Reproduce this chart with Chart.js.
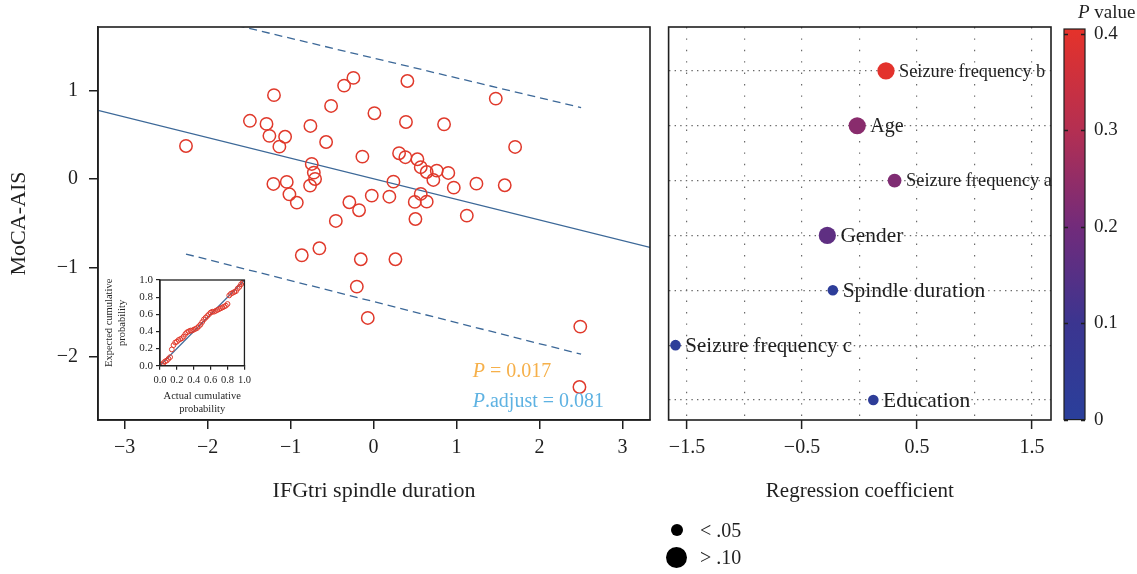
<!DOCTYPE html>
<html>
<head>
<meta charset="utf-8">
<title>MoCA-AIS and spindle duration</title>
<script src="https://cdn.jsdelivr.net/npm/chart.js@4.4.1/dist/chart.umd.min.js"></script>
<style>
  html, body { margin: 0; padding: 0; background: #fff; }
  #wrap { position: relative; width: 1137px; height: 574px; overflow: hidden; font-family: 'Liberation Serif', 'Times New Roman', serif; color: #1f1f1f; }
  canvas { position: absolute; }
  .dot { position: absolute; border-radius: 50%; background: #000; }
  .keytxt { position: absolute; font-size: 20px; line-height: 20px; white-space: nowrap; }
</style>
</head>
<body>
<div id="wrap">
  <canvas id="scatterChart" width="660" height="520" style="left:0;top:0"></canvas>
  <canvas id="ppChart" width="160" height="150" style="left:95px;top:270px"></canvas>
  <canvas id="coefChart" width="402" height="520" style="left:660px;top:0"></canvas>
  <canvas id="pBar" width="82" height="440" style="left:1055px;top:0"></canvas>

  <!-- marker size key -->
  <div class="dot" style="left:671px;top:524px;width:12px;height:12px"></div>
  <div class="dot" style="left:666px;top:547px;width:21px;height:21px"></div>
  <div class="keytxt" style="left:700px;top:520px">&lt; .05</div>
  <div class="keytxt" style="left:700px;top:547px">&gt; .10</div>
</div>

<script>
// ---- data ----

// left panel: z-scored IFGtri spindle duration vs MoCA-AIS
const spindleDuration = [-2.26, -1.49, -1.20, -1.29, -1.255, -1.066, -1.135, -0.761, -0.512, -0.572,
  -0.745, -0.72, -0.705, -0.765, -1.207, -1.046, -1.014, -0.925, -0.243, -0.355,
  0.407, 1.472, 0.01, 0.39, 0.849, 1.705, -0.135, 0.307, 0.383, 0.528,
  0.568, 0.64, 0.761, 0.90, 0.72, 0.239, 0.966, 1.239, 1.58, -0.022,
  0.19, 0.568, 0.496, 0.64, -0.292, -0.175, -0.455, 0.504, 1.123, -0.865,
  -0.653, -0.154, 0.263, -0.202, -0.07, 2.49, 2.48];
const mocaAis = [0.376, 0.66, 0.95, 0.625, 0.49, 0.48, 0.368, 0.602, 0.828, 0.421,
  0.173, 0.075, 0.003, -0.072, -0.053, -0.03, -0.17, -0.264, 1.145, 1.058,
  1.11, 0.911, 0.746, 0.647, 0.621, 0.365, 0.256, 0.294, 0.249, 0.226,
  0.136, 0.082, 0.097, 0.071, -0.008, -0.027, -0.095, -0.05, -0.068, -0.185,
  -0.197, -0.166, -0.256, -0.253, -0.26, -0.35, -0.471, -0.449, -0.411, -0.859,
  -0.78, -0.904, -0.904, -1.213, -1.567, -1.665, -2.347];

// fitted line and prediction band end points
const fitX = [-3.32, 3.33];
const fitY = [0.778, -0.771];
const bandX = [-2.26, 2.5];
const bandUpperY = [1.875, 0.809];
const bandLowerY = [-0.845, -1.977];

const xTicksMain = [-3, -2, -1, 0, 1, 2, 3];
const yTicksMain = [-2, -1, 0, 1];

// inset P-P plot
const ppActual = [0.02, 0.04, 0.06, 0.08, 0.10, 0.12, 0.14, 0.16, 0.18, 0.20,
  0.22, 0.24, 0.26, 0.28, 0.30, 0.32, 0.34, 0.36, 0.38, 0.40,
  0.42, 0.44, 0.46, 0.48, 0.50, 0.52, 0.54, 0.56, 0.58, 0.60,
  0.62, 0.64, 0.66, 0.68, 0.70, 0.72, 0.74, 0.76, 0.78, 0.80,
  0.82, 0.84, 0.86, 0.88, 0.90, 0.92, 0.94, 0.96, 0.98, 1.00];
const ppExpected = [0.01, 0.03, 0.05, 0.06, 0.08, 0.10, 0.19, 0.24, 0.27, 0.28,
  0.30, 0.31, 0.32, 0.34, 0.37, 0.39, 0.40, 0.41, 0.41, 0.42,
  0.43, 0.44, 0.46, 0.48, 0.51, 0.54, 0.56, 0.58, 0.60, 0.62,
  0.63, 0.63, 0.64, 0.65, 0.66, 0.67, 0.68, 0.69, 0.70, 0.72,
  0.82, 0.84, 0.85, 0.86, 0.87, 0.90, 0.92, 0.95, 0.97, 0.98];
const ppTicks = [0, 0.2, 0.4, 0.6, 0.8, 1];

// right panel: multivariable regression, top row first
const predictors = ['Seizure frequency b', 'Age', 'Seizure frequency a', 'Gender',
  'Spindle duration', 'Seizure frequency c', 'Education'];
const coefficients = [0.23, -0.02, 0.305, -0.28, -0.232, -1.60, 0.12];
const pValues = [0.40, 0.235, 0.22, 0.165, 0.02, 0.015, 0.025];
const coefGrid = [-1.5, -1, -0.5, 0, 0.5, 1, 1.5];
const coefLabelled = [-1.5, -0.5, 0.5, 1.5];
const pTicks = [0, 0.1, 0.2, 0.3, 0.4];

// ---- styles ----
const SERIF = "'Liberation Serif', 'Times New Roman', serif";
const INK = '#1f1f1f';
const RED = '#e0392b';
const STEEL = '#3c6898';
const markRadius = [8.6, 8.6, 6.9, 8.6, 5.3, 5.3, 5.3];
const labelSize = [18.3, 20, 18.4, 21.4, 21.5, 21, 21.5];
const rampStops = [[0, '#2a3f9b'], [0.1, '#3b3590'], [0.2, '#722b7b'], [0.3, '#b42f52'], [0.405, '#e5322a']];

const minus = v => String(v).replace('-', '\u2212');
const pairs = (xs, ys) => xs.map((x, i) => ({ x: x, y: ys[i] }));
const fixTicks = vals => s => { s.ticks = vals.map(v => ({ value: v })); };

function hexRgb(h) {
    return [1, 3, 5].map(i => parseInt(h.substr(i, 2), 16));
}

function pColor(p) {
    for (let i = 1; i < rampStops.length; i++) {
        const [v0, c0] = rampStops[i - 1];
        const [v1, c1] = rampStops[i];
        if (p <= v1 || i === rampStops.length - 1) {
            const t = Math.max(0, Math.min(1, (p - v0) / (v1 - v0)));
            const a = hexRgb(c0), b = hexRgb(c1);
            const m = a.map((c, k) => Math.round(c + (b[k] - c) * t));
            return 'rgb(' + m.join(',') + ')';
        }
    }
}

// box round the plot area
const frame = {
    id: 'frame',
    afterDraw(chart, args, opts) {
        const { ctx, chartArea: a } = chart;
        ctx.save();
        ctx.strokeStyle = INK;
        ctx.lineWidth = opts.width || 1.5;
        ctx.strokeRect(a.left, a.top, a.right - a.left, a.bottom - a.top);
        ctx.restore();
    }
};

// P and adjusted P in the corner of the scatter
const pNote = {
    id: 'pNote',
    afterDatasetsDraw(chart, args, opts) {
        const { ctx, scales: { x, y } } = chart;
        opts.lines.forEach(l => {
            let px = x.getPixelForValue(opts.x);
            const py = y.getPixelForValue(l.y);
            ctx.save();
            ctx.fillStyle = l.color;
            ctx.textBaseline = 'middle';
            ctx.font = 'italic 20px ' + SERIF;
            ctx.fillText('P', px, py);
            px += ctx.measureText('P').width;
            ctx.font = '20px ' + SERIF;
            ctx.fillText(l.text, px, py);
            ctx.restore();
        });
    }
};

// names next to each coefficient dot
const predictorLabels = {
    id: 'predictorLabels',
    afterDatasetsDraw(chart) {
        const { ctx } = chart;
        chart.getDatasetMeta(0).data.forEach((pt, i) => {
            ctx.save();
            ctx.font = labelSize[i] + 'px ' + SERIF;
            ctx.fillStyle = INK;
            ctx.textBaseline = 'middle';
            ctx.fillText(predictors[i], pt.x + markRadius[i] + 4.5, pt.y + 1);
            ctx.restore();
        });
    }
};

// colour bar for the P values
const colorRamp = {
    id: 'colorRamp',
    beforeDatasetsDraw(chart) {
        const { ctx, chartArea: a, scales: { y } } = chart;
        const g = ctx.createLinearGradient(0, y.getPixelForValue(y.min), 0, y.getPixelForValue(y.max));
        rampStops.forEach(([v, c]) => g.addColorStop(Math.min(1, (v - y.min) / (y.max - y.min)), c));
        ctx.save();
        ctx.fillStyle = g;
        ctx.fillRect(a.left, a.top, a.right - a.left, a.bottom - a.top);
        ctx.strokeStyle = INK;
        ctx.lineWidth = 1.3;
        y.ticks.forEach(t => {
            const py = Math.round(y.getPixelForValue(t.value)) + 0.5;
            ctx.beginPath();
            ctx.moveTo(a.left, py); ctx.lineTo(a.left + 4, py);
            ctx.moveTo(a.right - 4, py); ctx.lineTo(a.right, py);
            ctx.stroke();
        });
        ctx.lineWidth = 1.2;
        ctx.strokeRect(a.left, a.top, a.right - a.left, a.bottom - a.top);
        // title
        ctx.fillStyle = INK;
        ctx.textBaseline = 'middle';
        ctx.font = 'italic 19px ' + SERIF;
        ctx.fillText('P', 23, 13);
        const w = ctx.measureText('P').width;
        ctx.font = '19px ' + SERIF;
        ctx.fillText(' value', 23 + w, 13);
        ctx.restore();
    }
};

const quiet = { legend: { display: false }, tooltip: { enabled: false } };

// 1. Scatter with fitted line
new Chart(document.getElementById('scatterChart'), {
    type: 'scatter',
    data: {
        datasets: [
            {
                data: pairs(spindleDuration, mocaAis),
                pointRadius: 6.2,
                pointBorderWidth: 1.5,
                pointBorderColor: RED,
                pointBackgroundColor: 'rgba(0,0,0,0)'
            },
            { type: 'line', data: pairs(fitX, fitY), borderColor: STEEL, borderWidth: 1.3, pointRadius: 0, fill: false },
            { type: 'line', data: pairs(bandX, bandUpperY), borderColor: STEEL, borderWidth: 1.3, borderDash: [8, 5], pointRadius: 0, fill: false },
            { type: 'line', data: pairs(bandX, bandLowerY), borderColor: STEEL, borderWidth: 1.3, borderDash: [8, 5], pointRadius: 0, fill: false }
        ]
    },
    options: {
        responsive: false, animation: false,
        layout: { padding: { top: 27, right: 10 } },
        plugins: Object.assign({}, quiet, {
            frame: { width: 1.6 },
            pNote: {
                x: 1.195,
                lines: [
                    { y: -2.174, text: ' = 0.017', color: '#f6b04a' },
                    { y: -2.513, text: '.adjust = 0.081', color: '#5eb2e2' }
                ]
            }
        }),
        scales: {
            x: {
                type: 'linear', min: -3.32, max: 3.33,
                afterBuildTicks: fixTicks(xTicksMain),
                afterFit: s => { s.height = 100; },
                grid: { drawOnChartArea: false, tickLength: 9, color: INK, lineWidth: 1.5 },
                border: { color: INK, width: 1.5 },
                ticks: { font: { family: SERIF, size: 20 }, color: INK, padding: 7, autoSkip: false, maxRotation: 0, callback: v => minus(v) },
                title: { display: true, text: 'IFGtri spindle duration', font: { family: SERIF, size: 22 }, color: INK, padding: { bottom: 16 } }
            },
            y: {
                type: 'linear', min: -2.72, max: 1.72,
                afterBuildTicks: fixTicks(yTicksMain),
                afterFit: s => { s.width = 98; },
                grid: { drawOnChartArea: false, tickLength: 9, color: INK, lineWidth: 1.5 },
                border: { color: INK, width: 1.5 },
                ticks: { font: { family: SERIF, size: 20 }, color: INK, padding: 11, autoSkip: false, callback: v => minus(v) },
                title: { display: true, text: 'MoCA-AIS', font: { family: SERIF, size: 22 }, color: INK, padding: { top: 6 } }
            }
        }
    },
    plugins: [frame, pNote]
});

// 2. P-P inset
new Chart(document.getElementById('ppChart'), {
    type: 'scatter',
    data: {
        datasets: [
            {
                data: pairs(ppActual, ppExpected),
                pointRadius: 2.4,
                pointBorderWidth: 1,
                pointBorderColor: RED,
                pointBackgroundColor: 'rgba(0,0,0,0)'
            },
            { type: 'line', data: pairs([0, 1], [0, 1]), borderColor: STEEL, borderWidth: 1.2, pointRadius: 0, fill: false }
        ]
    },
    options: {
        responsive: false, animation: false,
        layout: { padding: { top: 10, right: 9.3 } },
        plugins: Object.assign({}, quiet, { frame: { width: 1.3 } }),
        scales: {
            x: {
                type: 'linear', min: 0, max: 1,
                afterBuildTicks: fixTicks(ppTicks),
                afterFit: s => { s.height = 54.3; },
                grid: { drawOnChartArea: false, tickLength: 4, color: INK, lineWidth: 1.2 },
                border: { color: INK, width: 1.3 },
                ticks: { font: { family: SERIF, size: 10.5 }, color: INK, padding: 4, autoSkip: false, maxRotation: 0, callback: v => v.toFixed(1) },
                title: { display: true, text: ['Actual cumulative', 'probability'], font: { family: SERIF, size: 10.5, lineHeight: 1.25 }, color: INK, padding: { bottom: 4 } }
            },
            y: {
                type: 'linear', min: 0, max: 1,
                afterBuildTicks: fixTicks(ppTicks),
                afterFit: s => { s.width = 65; },
                grid: { drawOnChartArea: false, tickLength: 4, color: INK, lineWidth: 1.2 },
                border: { color: INK, width: 1.3 },
                ticks: { font: { family: SERIF, size: 11 }, color: INK, padding: 3, autoSkip: false, callback: v => v.toFixed(1) },
                title: { display: true, text: ['Expected cumulative', 'probability'], font: { family: SERIF, size: 10.5, lineHeight: 1.25 }, color: INK, padding: { top: 8 } }
            }
        }
    },
    plugins: [frame]
});

// 3. Regression coefficients, coloured by P value
new Chart(document.getElementById('coefChart'), {
    type: 'scatter',
    data: {
        datasets: [{
            data: coefficients.map((c, i) => ({ x: c, y: predictors.length - i })),
            pointRadius: markRadius,
            pointBackgroundColor: pValues.map(pColor),
            pointBorderWidth: 0
        }]
    },
    options: {
        responsive: false, animation: false,
        layout: { padding: { left: 7, top: 27, right: 11 } },
        plugins: Object.assign({}, quiet, { frame: { width: 1.6 } }),
        scales: {
            x: {
                type: 'linear', min: -1.66, max: 1.665,
                afterBuildTicks: fixTicks(coefGrid),
                afterFit: s => { s.height = 100; },
                grid: {
                    color: '#6a6a6a', lineWidth: 1.2, tickLength: 9, tickWidth: 1.5, tickBorderDash: [],
                    tickColor: c => coefLabelled.includes(c.tick && c.tick.value) ? INK : 'rgba(0,0,0,0)'
                },
                border: { display: false, dash: [1.4, 10] },
                ticks: {
                    font: { family: SERIF, size: 20 }, color: INK, padding: 7, autoSkip: false, maxRotation: 0,
                    callback: v => coefLabelled.includes(v) ? minus(v) : ''
                },
                title: { display: true, text: 'Regression coefficient', font: { family: SERIF, size: 21 }, color: INK, padding: { bottom: 16 } }
            },
            y: {
                type: 'linear', min: 0.635, max: 7.8,
                afterBuildTicks: fixTicks([1, 2, 3, 4, 5, 6, 7]),
                afterFit: s => { s.width = 0; },
                grid: { color: '#6a6a6a', lineWidth: 1.2, drawTicks: false },
                border: { display: false, dash: [1.4, 4.2] },
                ticks: { display: false }
            }
        }
    },
    plugins: [frame, predictorLabels]
});

// 4. P value colour bar
new Chart(document.getElementById('pBar'), {
    type: 'bar',
    data: { labels: [''], datasets: [] },
    options: {
        responsive: false, animation: false,
        layout: { padding: { left: 9, top: 29, bottom: 20 } },
        plugins: quiet,
        scales: {
            x: { display: false },
            y: {
                position: 'right', min: 0, max: 0.405,
                afterBuildTicks: fixTicks(pTicks),
                afterFit: s => { s.width = 52; },
                grid: { display: false, drawTicks: false },
                border: { display: false },
                ticks: { font: { family: SERIF, size: 19 }, color: INK, padding: 9, autoSkip: false, callback: v => v === 0 ? '0' : v.toFixed(1) }
            }
        }
    },
    plugins: [colorRamp]
});
</script>
</body>
</html>
